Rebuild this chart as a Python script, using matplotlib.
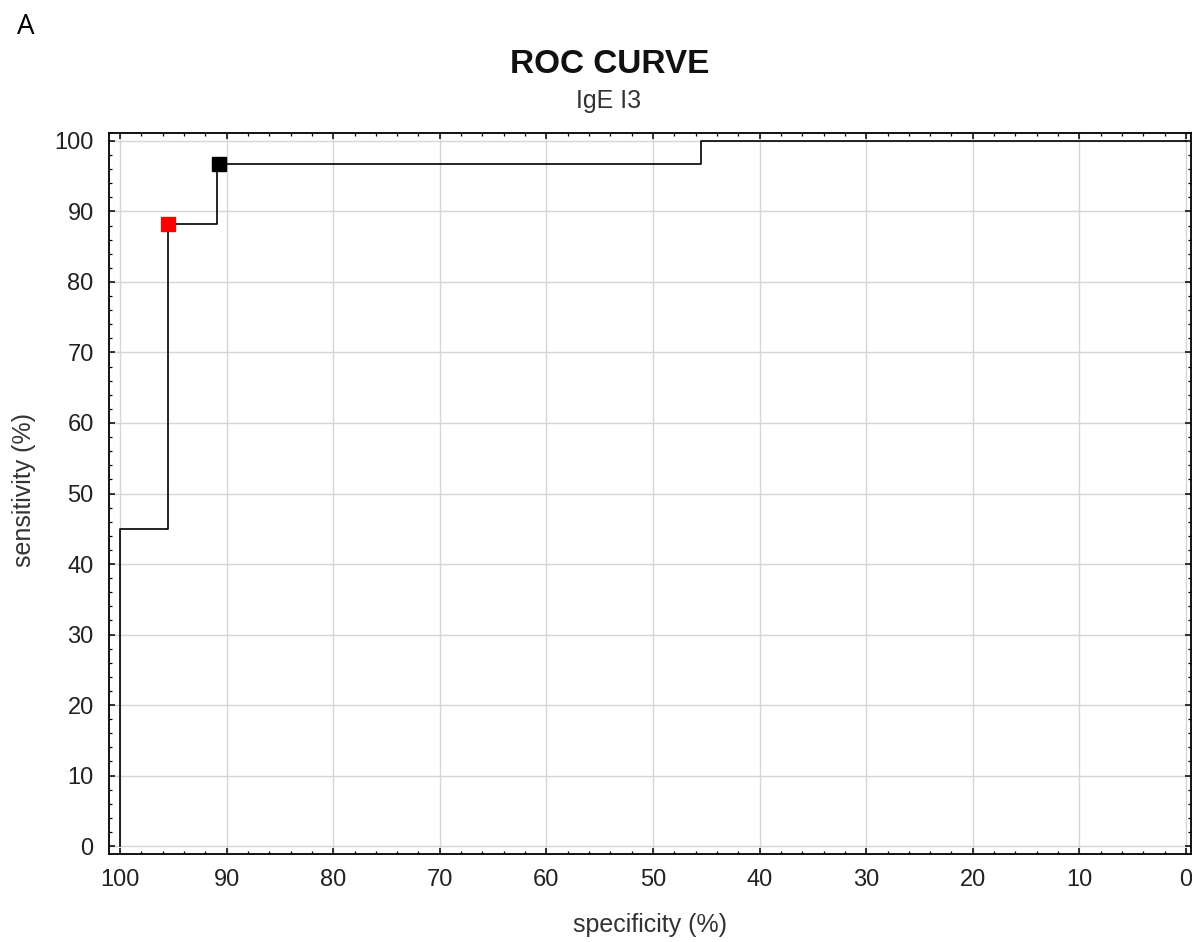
import matplotlib
matplotlib.use("Agg")
import matplotlib.pyplot as plt
from matplotlib.ticker import MultipleLocator

plt.rcParams['font.family'] = ['Liberation Sans', 'DejaVu Sans']

# ROC curve vertices (specificity %, sensitivity %)
specificity = [100, 100, 95.45, 95.45, 90.91, 90.91, 45.45, 45.45, 0]
sensitivity = [0, 45.0, 45.0, 88.2, 88.2, 96.7, 96.7, 100, 100]
red_point = (95.45, 88.2)
black_point = (90.7, 96.7)
x_ticks = [100, 90, 80, 70, 60, 50, 40, 30, 20, 10, 0]
y_ticks = [0, 10, 20, 30, 40, 50, 60, 70, 80, 90, 100]

W, H = 1192, 942
fig = plt.figure(figsize=(W / 100, H / 100), dpi=100)
ax = fig.add_axes([109 / W, 1 - 854 / H, (1191 - 109) / W, (854 - 133) / H])

ax.set_xlim(101.03, -0.47)
ax.set_ylim(-1.13, 101.13)
ax.set_xticks(x_ticks)
ax.set_yticks(y_ticks)
ax.xaxis.set_minor_locator(MultipleLocator(2))
ax.yaxis.set_minor_locator(MultipleLocator(2))
ax.grid(True, which='major', color='#d6d6d6', linewidth=1.0)
ax.set_axisbelow(True)

ax.tick_params(which='both', direction='in', top=True, right=True, colors='black')
ax.tick_params(which='major', length=4, width=1.1, labelsize=17)
ax.tick_params(which='minor', length=2, width=0.9)
ax.tick_params(axis='x', which='major', pad=11)
ax.tick_params(axis='y', which='major', pad=11)
for lbl in ax.get_xticklabels() + ax.get_yticklabels():
    lbl.set_color('#222222')
for s in ax.spines.values():
    s.set_linewidth(1.3)
    s.set_color('black')

ax.plot(specificity, sensitivity, color='black', linewidth=1.2, zorder=3)
ax.plot([red_point[0]], [red_point[1]], marker='s', markersize=9.4, color='#ff0000',
        linestyle='none', zorder=4)
ax.plot([black_point[0]], [black_point[1]], marker='s', markersize=9.4, color='black',
        linestyle='none', zorder=4)

fig.text(610 / W, 1 - 73 / H, 'ROC CURVE', fontsize=24, fontweight='bold',
         ha='center', va='baseline', color='#111111')
fig.text(609 / W, 1 - 108 / H, 'IgE I3', fontsize=18, ha='center', va='baseline',
         color='#333333')
fig.text(650 / W, 1 - 932 / H, 'specificity (%)', fontsize=18, ha='center',
         va='baseline', color='#333333')
fig.text(24 / W, 1 - 490 / H, 'sensitivity (%)', fontsize=18, rotation=90,
         ha='center', va='center', color='#333333')
fig.text(17 / W, 1 - 34 / H, 'A', fontsize=20, ha='left', va='baseline',
         color='black', family=['Open Sans', 'DejaVu Sans'])

fig.savefig('out.png', dpi=100)
